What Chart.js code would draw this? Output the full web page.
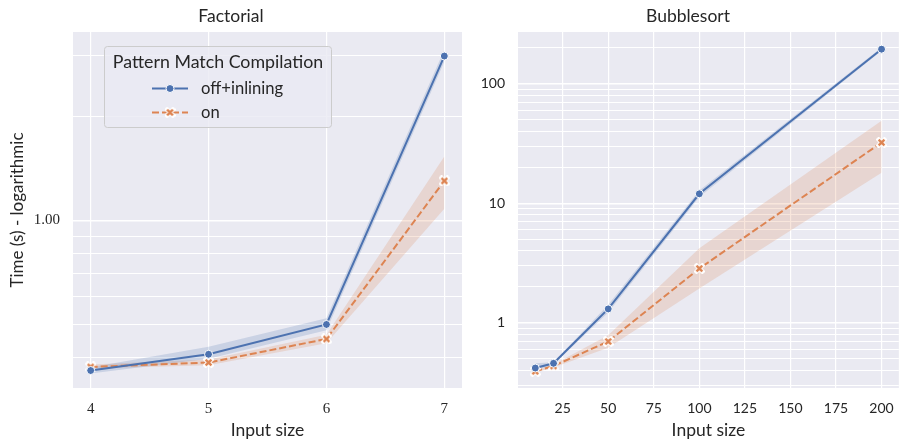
<!DOCTYPE html>
<html><head><meta charset="utf-8">
<script src="https://cdn.jsdelivr.net/npm/chart.js@4"></script>
<style>
html,body{margin:0;padding:0;background:#fff;overflow:hidden;width:902px;height:439px;}
#c1{position:absolute;left:0;top:0;}
#c2{position:absolute;left:470px;top:0;}
</style></head><body>
<canvas id="c1" width="470" height="439" style="width:470px;height:439px"></canvas>
<canvas id="c2" width="436" height="439" style="width:436px;height:439px"></canvas>
<script>
// ---------- data ----------
const seriesNames = ['off+inlining', 'on'];
const legendTitle = 'Pattern Match Compilation';

const factTitle = 'Factorial';
const factSizes = [4, 5, 6, 7];
const factOff = [0.367, 0.409, 0.499, 2.99];
const factOffHi = [0.375, 0.43, 0.52, 3.12];
const factOffLo = [0.360, 0.397, 0.48, 2.88];
const factOn = [0.376, 0.387, 0.453, 1.30];
const factOnHi = [0.382, 0.395, 0.466, 1.53];
const factOnLo = [0.372, 0.380, 0.440, 1.08];
const factXTicks = [4, 5, 6, 7];
const factYTicks = [0.4, 0.5, 0.6, 0.7, 0.8, 0.9, 1, 2, 3];
const factYLabels = {1: '1.00'};

const bubTitle = 'Bubblesort';
const bubSizes = [10, 20, 50, 100, 200];
const bubOff = [0.42, 0.46, 1.31, 12.0, 194];
const bubOffHi = [0.46, 0.47, 1.42, 12.8, 200];
const bubOffLo = [0.40, 0.45, 1.22, 11.3, 188];
const bubOn = [0.394, 0.437, 0.70, 2.85, 32.2];
const bubOnHi = [0.40, 0.45, 0.79, 4.2, 49];
const bubOnLo = [0.385, 0.425, 0.62, 1.94, 18];
const bubXTicks = [25, 50, 75, 100, 125, 150, 175, 200];
const bubYTicks = [0.3,0.4,0.5,0.6,0.7,0.8,0.9,1,2,3,4,5,6,7,8,9,10,20,30,40,50,60,70,80,90,100,200];
const bubYLabels = {1: '1', 10: '10', 100: '100'};

const xLabel = 'Input size';
const yLabel = 'Time (s) - logarithmic';

// ---------- style ----------
const BLUE = '#4C72B0', ORANGE = '#DD8452';
const BLUE_FILL = 'rgba(76,114,176,0.2)', ORANGE_FILL = 'rgba(221,132,82,0.2)';
const SANS = "Lato, 'Open Sans', sans-serif";
const SERIF = "'Liberation Serif', 'DejaVu Serif', serif";
const TXT = '#262626';
const DASH = [7, 3];

function makeX(color) {
  const c = document.createElement('canvas');
  c.width = 11; c.height = 11;
  const g = c.getContext('2d');
  g.translate(5.5, 5.5);
  const s = 2.9;
  const path = () => { g.beginPath(); g.moveTo(-s,-s); g.lineTo(s,s); g.moveTo(-s,s); g.lineTo(s,-s); };
  path(); g.strokeStyle = '#fff'; g.lineWidth = 4.4; g.lineCap = 'square'; g.stroke();
  path(); g.strokeStyle = color; g.lineWidth = 2.4; g.lineCap = 'butt'; g.stroke();
  return c;
}
const xMarker = makeX(ORANGE);

const pts = (xs, ys) => xs.map((x, i) => ({x, y: ys[i]}));

function datasets(xs, off, offHi, offLo, on, onHi, onLo) {
  return [
    {label: seriesNames[0], data: pts(xs, off), borderColor: BLUE, backgroundColor: BLUE, borderWidth: 2,
     pointRadius: 4, pointBorderColor: '#fff', pointBorderWidth: 1, pointBackgroundColor: BLUE, fill: false, order: 0},
    {label: seriesNames[1], data: pts(xs, on), borderColor: ORANGE, backgroundColor: ORANGE, borderWidth: 2, borderDash: DASH,
     pointStyle: xMarker, pointRadius: 4, fill: false, order: 0},
    {label: 'offHi', data: pts(xs, offHi), borderWidth: 0, pointRadius: 0, backgroundColor: BLUE_FILL, fill: '+1', order: 5},
    {label: 'offLo', data: pts(xs, offLo), borderWidth: 0, pointRadius: 0, fill: false, order: 5},
    {label: 'onHi', data: pts(xs, onHi), borderWidth: 0, pointRadius: 0, backgroundColor: ORANGE_FILL, fill: '+1', order: 6},
    {label: 'onLo', data: pts(xs, onLo), borderWidth: 0, pointRadius: 0, fill: false, order: 6},
  ];
}

const bgPlugin = {
  id: 'bg',
  beforeDraw(chart) {
    const {ctx, chartArea: a} = chart;
    ctx.save(); ctx.fillStyle = '#EAEAF2';
    ctx.fillRect(a.left, a.top, a.right - a.left, a.bottom - a.top);
    ctx.restore();
  }
};

const legendPlugin = {
  id: 'customLegend',
  afterDraw(chart) {
    const ctx = chart.ctx;
    ctx.save();
    const x = 104.5, y = 46.5, w = 227, h = 81, r = 3;
    ctx.beginPath();
    ctx.moveTo(x + r, y); ctx.lineTo(x + w - r, y); ctx.arcTo(x + w, y, x + w, y + r, r);
    ctx.lineTo(x + w, y + h - r); ctx.arcTo(x + w, y + h, x + w - r, y + h, r);
    ctx.lineTo(x + r, y + h); ctx.arcTo(x, y + h, x, y + h - r, r);
    ctx.lineTo(x, y + r); ctx.arcTo(x, y, x + r, y, r); ctx.closePath();
    ctx.fillStyle = 'rgba(234,234,242,0.8)'; ctx.fill();
    ctx.strokeStyle = '#cccccc'; ctx.lineWidth = 1; ctx.stroke();
    ctx.fillStyle = TXT; ctx.textBaseline = 'middle';
    ctx.font = '17.8px ' + SANS; ctx.textAlign = 'center';
    ctx.fillText(legendTitle, 218, 62);
    ctx.textAlign = 'left'; ctx.font = '16.6px ' + SANS;
    const rows = [88.5, 112.5];
    // row 1
    ctx.beginPath(); ctx.moveTo(152, rows[0]); ctx.lineTo(188, rows[0]);
    ctx.strokeStyle = BLUE; ctx.lineWidth = 2; ctx.stroke();
    ctx.beginPath(); ctx.arc(170, rows[0], 4, 0, Math.PI * 2);
    ctx.fillStyle = BLUE; ctx.fill(); ctx.strokeStyle = '#fff'; ctx.lineWidth = 1; ctx.stroke();
    ctx.fillStyle = TXT; ctx.fillText(seriesNames[0], 201, rows[0]);
    // row 2
    ctx.beginPath(); ctx.setLineDash(DASH); ctx.moveTo(152, rows[1]); ctx.lineTo(188, rows[1]);
    ctx.strokeStyle = ORANGE; ctx.lineWidth = 2; ctx.stroke(); ctx.setLineDash([]);
    ctx.drawImage(xMarker, 170 - 5.5, rows[1] - 5.5);
    ctx.fillStyle = TXT; ctx.fillText(seriesNames[1], 201, rows[1]);
    ctx.restore();
  }
};

function makeChart(el, cfg) {
  const yLabels = cfg.yLabels;
  return new Chart(document.getElementById(el), {
    type: 'line',
    data: {datasets: cfg.datasets},
    plugins: cfg.legend ? [bgPlugin, legendPlugin] : [bgPlugin],
    options: {
      responsive: false, animation: false, devicePixelRatio: 1,
      layout: {padding: {left: 0, right: cfg.padRight, top: 0, bottom: 0}},
      plugins: {
        legend: {display: false}, tooltip: {enabled: false},
        title: {display: true, text: cfg.title, color: TXT, font: {family: SANS, size: 17.5, weight: 'normal', lineHeight: 1.2}, padding: {top: 6, bottom: 5}},
      },
      elements: {line: {tension: 0}},
      scales: {
        x: {
          type: 'linear', min: cfg.xmin, max: cfg.xmax, bounds: 'data',
          afterBuildTicks: s => { s.ticks = cfg.xTicks.map(v => ({value: v})); },
          afterFit: s => { s.height = 51; },
          ticks: {autoSkip: false, maxRotation: 0, padding: 12, color: TXT, font: {family: cfg.tickFont, size: cfg.tickSize}, callback: v => String(v)},
          grid: {color: '#ffffff', lineWidth: 1.2, drawTicks: false},
          border: {display: false},
          title: {display: true, text: xLabel, color: TXT, font: {family: SANS, size: 17.5, lineHeight: 1}, padding: {top: 0, bottom: 0}},
        },
        y: {
          type: 'logarithmic', min: cfg.ymin, max: cfg.ymax, bounds: 'data',
          afterBuildTicks: s => { s.ticks = cfg.yTicks.map(v => ({value: v})); },
          afterFit: s => { s.width = cfg.yWidth; },
          ticks: {autoSkip: false, padding: 13, color: TXT, font: {family: cfg.tickFont, size: cfg.tickSize},
                  callback: v => { for (const k in yLabels) { if (Math.abs(v - Number(k)) < 1e-9) return yLabels[k]; } return ''; }},
          grid: {color: '#ffffff', drawTicks: false,
                 lineWidth: c => { const v = c.tick && c.tick.value; return (v === 1 || v === 10 || v === 100) ? 1.4 : 1; }},
          border: {display: false},
          title: {display: !!cfg.yTitle, text: cfg.yTitle || '', color: TXT, font: {family: SANS, size: 17, lineHeight: 1}, padding: {top: 9.5, bottom: 0}},
        }
      }
    }
  });
}

makeChart('c1', {
  title: factTitle, legend: true, padRight: 8, yWidth: 73, tickFont: SERIF, tickSize: 15,
  datasets: datasets(factSizes, factOff, factOffHi, factOffLo, factOn, factOnHi, factOnLo),
  xmin: 3.85, xmax: 7.15, xTicks: factXTicks,
  ymin: 0.3266, ymax: 3.51, yTicks: factYTicks, yLabels: factYLabels, yTitle: yLabel,
});
makeChart('c2', {
  title: bubTitle, legend: false, padRight: 0, yWidth: 48, tickFont: SANS, tickSize: 14,
  datasets: datasets(bubSizes, bubOff, bubOffHi, bubOffLo, bubOn, bubOnHi, bubOnLo),
  xmin: 0.5, xmax: 209.5, xTicks: bubXTicks,
  ymin: 0.286, ymax: 270, yTicks: bubYTicks, yLabels: bubYLabels, yTitle: null,
});
</script>
</body></html>
